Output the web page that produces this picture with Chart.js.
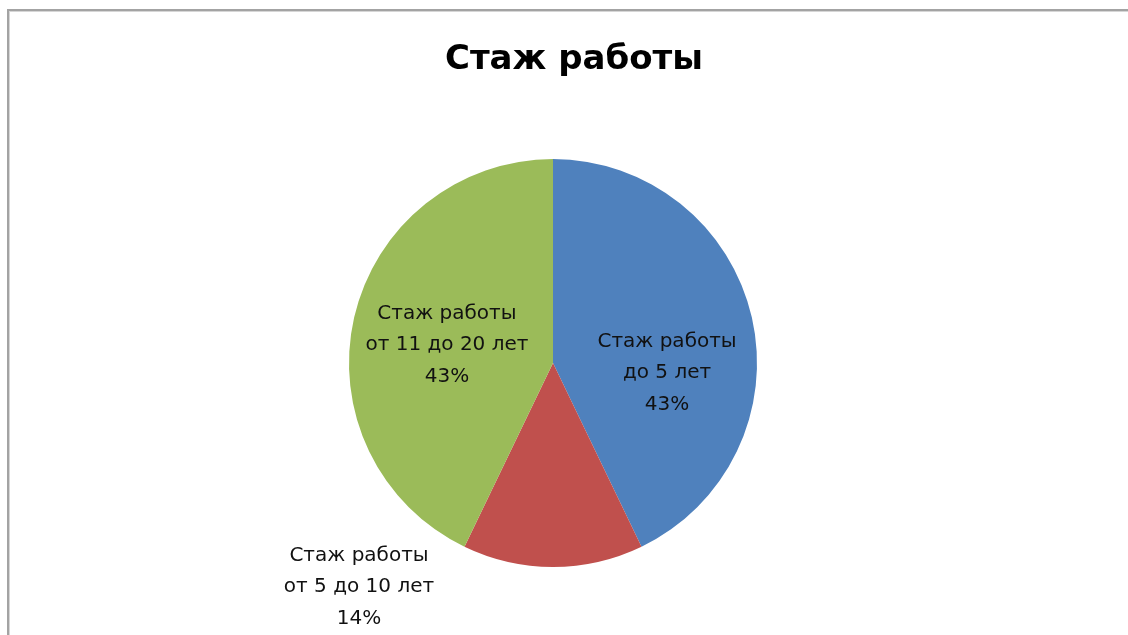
<!DOCTYPE html>
<html>
<head>
<meta charset="utf-8">
<script src="https://cdn.jsdelivr.net/npm/chart.js@4/dist/chart.umd.min.js"></script>
<style>
  html, body { margin: 0; padding: 0; background: #ffffff; width: 1128px; height: 635px; overflow: hidden; }
  #frame { position: absolute; left: 7px; top: 9px; width: 1200px; height: 700px;
           border-top: 2px solid #a3a3a3; border-left: 2px solid #a3a3a3;
           box-shadow: inset 1px 1px 0 #d6d6d6; }
  #wrap { position: absolute; left: 0; top: 0; width: 1128px; height: 635px; }
</style>
</head>
<body>
<div id="frame"></div>
<div id="wrap"><canvas id="c" width="1128" height="635"></canvas></div>
<script>
// ---- data ----
const chartTitle = 'Стаж работы';
const categories = ['Стаж работы\nдо 5 лет', 'Стаж работы\nот 5 до 10 лет', 'Стаж работы\nот 11 до 20 лет'];
const values = [3, 1, 3];
const colors = ['#4F81BD', '#C0504D', '#9BBB59'];
// label placement relative to pie centre, in fractions of the radius (style only)
const labelOffsets = [[0.559, 0.049], [-0.951, 1.098], [-0.520, -0.088]];

const TITLE_FONT = '"DejaVu Sans", sans-serif';
const LABEL_FONT = '"DejaVu Sans", sans-serif';

const labelPlugin = {
  id: 'sliceLabels',
  afterDatasetsDraw(chart) {
    const meta = chart.getDatasetMeta(0);
    const ds = chart.data.datasets[0].data;
    const total = ds.reduce((a, b) => a + b, 0);
    const ctx = chart.ctx;
    ctx.save();
    ctx.font = '20px ' + LABEL_FONT;
    ctx.fillStyle = '#111111';
    ctx.textAlign = 'center';
    ctx.textBaseline = 'middle';
    const lh = 31.5;
    meta.data.forEach((arc, i) => {
      const p = arc.getProps(['x', 'y', 'outerRadius'], true);
      const cx = p.x + labelOffsets[i][0] * p.outerRadius;
      const cy = p.y + labelOffsets[i][1] * p.outerRadius;
      const lines = chart.data.labels[i].split('\n');
      lines.push(Math.round(ds[i] / total * 100) + '%');
      const y0 = cy - (lines.length - 1) * lh / 2;
      lines.forEach((t, k) => ctx.fillText(t, cx, y0 + k * lh));
    });
    ctx.restore();
  }
};

const titleShift = {
  id: 'titleShift',
  afterLayout(chart) {
    if (chart.titleBlock) { chart.titleBlock.left += 21; chart.titleBlock.right += 21; }
  }
};

new Chart(document.getElementById('c'), {
  type: 'pie',
  data: {
    labels: categories,
    datasets: [{ data: values, backgroundColor: colors, borderWidth: 0, hoverOffset: 0 }]
  },
  options: {
    responsive: false,
    animation: false,
    events: [],
    layout: { padding: { top: 27, left: 0, right: 22, bottom: 68 } },
    plugins: {
      legend: { display: false },
      tooltip: { enabled: false },
      title: {
        display: true,
        text: chartTitle,
        color: '#000000',
        font: { family: TITLE_FONT, size: 34, weight: 'bold', lineHeight: 1.2 },
        padding: { top: 13, bottom: 78.2 }
      }
    }
  },
  plugins: [labelPlugin, titleShift]
});
</script>
</body>
</html>
